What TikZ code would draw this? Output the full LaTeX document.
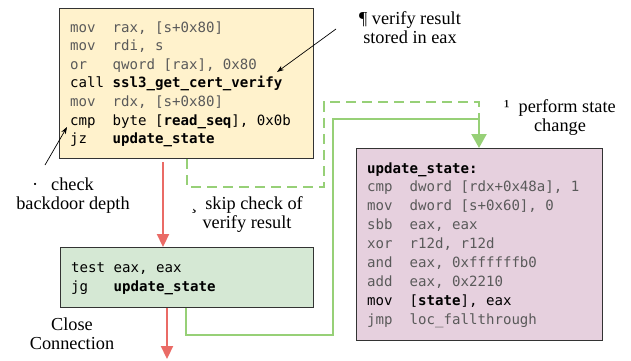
\documentclass[tikz,border=0pt]{standalone}
\usepackage{fontspec}
\setmainfont{Liberation Serif}
\newfontfamily\codefont{DejaVu Sans Mono}
\usetikzlibrary{arrows.meta}
\definecolor{yelfill}{HTML}{FFF2CC}
\definecolor{grnfill}{HTML}{D5E8D4}
\definecolor{pnkfill}{HTML}{E6D0DE}
\definecolor{redarr}{HTML}{EA6B66}
\definecolor{grnarr}{HTML}{97D077}
\definecolor{boxline}{HTML}{333333}
\definecolor{codegrey}{HTML}{5A5A5A}
\begin{document}
\begin{tikzpicture}[x=1pt,y=-1pt,
  codebox/.style={draw=boxline,line width=1.1pt,anchor=north west,inner sep=0pt},
  code/.style={anchor=base west,inner sep=0pt,font=\codefont\fontsize{14.1}{16}\selectfont,text=codegrey},
  codeb/.style={code,text=black},
  lbl/.style={align=center,inner sep=0pt,font=\fontsize{18.3}{19}\selectfont},
  redflow/.style={draw=redarr,line width=2.2pt,-{Triangle[length=13pt,width=12pt]}},
  grnflow/.style={draw=grnarr,line width=2.2pt},
  pointer/.style={draw=black,line width=0.7pt,-{Stealth[length=7pt,width=5pt]}}]
\useasboundingbox (0,0) rectangle (631,360);
% boxes
\node[codebox,fill=yelfill,minimum width=254pt,minimum height=150pt] (yb) at (59,8) {};
\node[codebox,fill=grnfill,minimum width=253pt,minimum height=60pt] (gb) at (60,247) {};
\node[codebox,fill=pnkfill,minimum width=246pt,minimum height=192pt] (pb) at (356,148) {};
% yellow code
\node[code] (y1) at (70,32.0) {mov~~rax, [s+0x80]};
\node[code] (y2) at (70,50.6) {mov~~rdi, s};
\node[code] (y3) at (70,69.2) {or~~~qword [rax], 0x80};
\node[codeb] (y4) at (70,87.8) {call \textbf{ssl3\_get\_cert\_verify}};
\node[code] (y5) at (70,106.4) {mov~~rdx, [s+0x80]};
\node[codeb] (y6) at (70,125.0) {cmp~~byte [\textbf{read\_seq}], 0x0b};
\node[codeb] (y7) at (70,143.6) {jz~~~\textbf{update\_state}};
% green code
\node[codeb] (g1) at (71,272) {test eax, eax};
\node[codeb] (g2) at (71,291) {jg~~~\textbf{update\_state}};
% pink code
\node[codeb] (p1) at (367,173.0) {\textbf{update\_state:}};
\node[code] (p2) at (367,191.9) {cmp~~dword [rdx+0x48a], 1};
\node[code] (p3) at (367,210.8) {mov~~dword [s+0x60], 0};
\node[code] (p4) at (367,229.7) {sbb~~eax, eax};
\node[code] (p5) at (367,248.6) {xor~~r12d, r12d};
\node[code] (p6) at (367,267.5) {and~~eax, 0xffffffb0};
\node[code] (p7) at (367,286.4) {add~~eax, 0x2210};
\node[codeb] (p8) at (367,305.3) {mov~~[\textbf{state}], eax};
\node[code] (p9) at (367,324.2) {jmp~~loc\_fallthrough};
% labels
\node[lbl] (lverify) at (410,28) {¶ verify result\\stored in eax};
\node[lbl] (lcheck) at (73,196) {·\hspace{13pt}check\hspace*{20pt}\\backdoor depth};
\node[lbl] (lskip) at (247,215) {¸\hspace{8pt}skip check of\\verify result};
\node[lbl] (lperf) at (560,118) {¹\hspace{9pt}perform state\\change};
\node[lbl] (lclose) at (72,334) {Close\\Connection};
% pointer arrows
\coordinate (vs) at (336,29);
\coordinate (vt) at (277,72);
\coordinate (cs) at (45,165);
\coordinate (ct) at (67,127);
\draw[pointer] (vs) -- (vt);
\draw[pointer] (cs) -- (ct);
% red flows
\coordinate (r1s) at (163,162);
\coordinate (r2e) at (167,359);
\draw[redflow] (r1s) -- (r1s |- gb.north);
\draw[redflow] (167,0 |- gb.south) -- (r2e);
% green flows
\coordinate (join) at (479,119);
\draw[grnflow,dash pattern=on 10pt off 6pt] (187,0 |- yb.south) -- (187,187) -- (324,187) -- (324,102) -- (479,102) -- (join);
\draw[grnflow] (186,0 |- gb.south) -- (186,335) -- (333,335) -- (333,119) -- (join);
\draw[grnflow,-{Triangle[length=14pt,width=15pt]}] (join) -- (join |- pb.north);
\end{tikzpicture}
\end{document}
